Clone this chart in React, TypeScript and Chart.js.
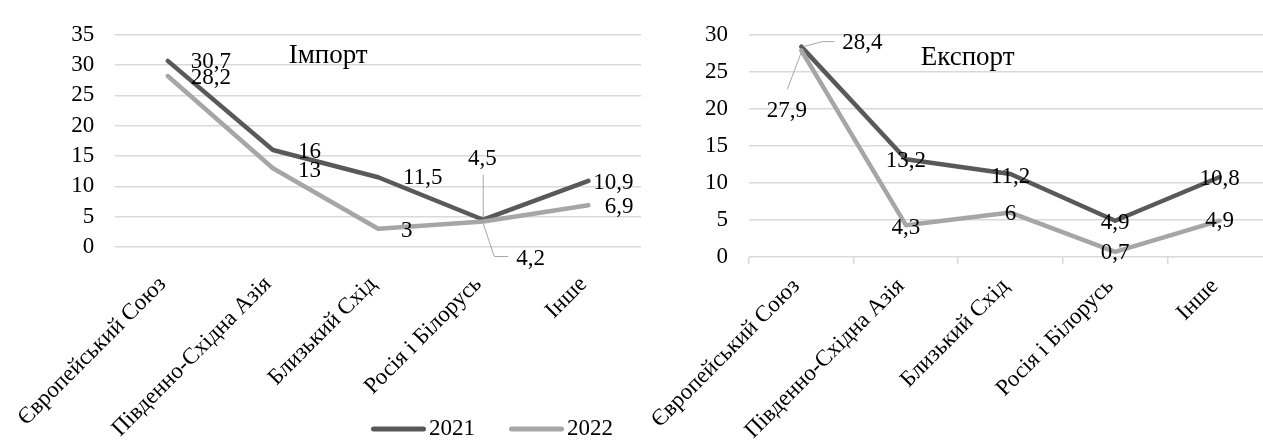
import React, { useEffect, useRef } from "react";
import { Chart, registerables } from "chart.js";

Chart.register(...registerables);

const FONT = "'Liberation Serif', 'Times New Roman', serif";
const DARK = "#595959";
const LIGHT = "#a6a6a6";
const GRID = "#d9d9d9";
const LEADER = "#a6a6a6";

// ---- data ----
const categories = [
  "Європейський Союз",
  "Південно-Східна Азія",
  "Близький Схід",
  "Росія і Білорусь",
  "Інше",
];
const seriesNames = ["2021", "2022"];
const import2021 = [30.7, 16, 11.5, 4.5, 10.9];
const import2022 = [28.2, 13, 3, 4.2, 6.9];
const export2021 = [28.4, 13.2, 11.2, 4.9, 10.8];
const export2022 = [27.9, 4.3, 6, 0.7, 4.9];
const importAxis = { min: 0, max: 35, step: 5 };
const exportAxis = { min: 0, max: 30, step: 5 };
const importTitle = "Імпорт";
const exportTitle = "Експорт";

// ---- label placement (layout only) ----
type Place = { dx: number; dy: number; align: CanvasTextAlign; leader?: number[][] };
const R = (dx: number, dy: number): Place => ({ dx, dy, align: "left" });
const C = (dy: number): Place => ({ dx: 0, dy, align: "center" });

const importPlaces: Place[][] = [
  [R(23, 1), R(25, 1.5), R(25, 1), { dx: -1, dy: -61, align: "center", leader: [[0, -45], [0, -2]] }, { dx: 45, dy: 2, align: "right" }],
  [R(23, 2), R(25, 2.5), R(23, 2), { dx: 33, dy: 37, align: "left", leader: [[0, 2], [11, 35], [25, 35]] }, { dx: 45, dy: 2, align: "right" }],
];
const exportPlaces: Place[][] = [
  [{ dx: 41, dy: -4, align: "left", leader: [[2, 0], [21, -5], [33, -5]] }, C(2), C(3), C(2), C(2)],
  [{ dx: -14.5, dy: 61, align: "center", leader: [[-14, 39], [0, 2]] }, C(2.5), C(1.5), C(1.5), C(0)],
];

// legend layout (left canvas pixels)
const legendLayout = { y: 429, starts: [371, 509], lineLen: 55, thickness: 5, gap: 3 };

const fmt = (v: number) => String(v).replace(".", ",");

function labelPlugin(title: string, titlePos: [number, number], places: Place[][], withLegend: boolean) {
  return {
    id: "valueLabels",
    afterDatasetsDraw(chart: any) {
      const ctx: CanvasRenderingContext2D = chart.ctx;
      const a = chart.chartArea;
      ctx.save();
      ctx.fillStyle = "#000";
      ctx.textBaseline = "middle";
      ctx.textAlign = "center";
      ctx.font = `27px ${FONT}`;
      ctx.fillText(title, a.left + titlePos[0] * (a.right - a.left), a.top + titlePos[1] * (a.bottom - a.top));
      chart.data.datasets.forEach((ds: any, di: number) => {
        const meta = chart.getDatasetMeta(di);
        meta.data.forEach((pt: any, j: number) => {
          const p = places[di][j];
          const x = pt.x;
          const y = pt.y;
          if (p.leader) {
            ctx.strokeStyle = LEADER;
            ctx.lineWidth = 1;
            ctx.beginPath();
            p.leader.forEach(([lx, ly], k) => (k ? ctx.lineTo(x + lx, y + ly) : ctx.moveTo(x + lx, y + ly)));
            ctx.stroke();
          }
          ctx.font = `23px ${FONT}`;
          ctx.fillStyle = "#000";
          ctx.textAlign = p.align;
          ctx.fillText(fmt(ds.data[j]), x + p.dx, y + p.dy);
        });
      });
      ctx.restore();
    },
    afterDraw(chart: any) {
      if (!withLegend) return;
      const ctx: CanvasRenderingContext2D = chart.ctx;
      const L = legendLayout;
      ctx.save();
      chart.data.datasets.forEach((ds: any, i: number) => {
        const x0 = L.starts[i];
        const r = L.thickness / 2;
        ctx.strokeStyle = ds.borderColor;
        ctx.lineWidth = L.thickness;
        ctx.lineCap = "round";
        ctx.beginPath();
        ctx.moveTo(x0 + r, L.y);
        ctx.lineTo(x0 + L.lineLen - r, L.y);
        ctx.stroke();
        ctx.fillStyle = "#000";
        ctx.font = `23px ${FONT}`;
        ctx.textAlign = "left";
        ctx.textBaseline = "middle";
        ctx.fillText(ds.label, x0 + L.lineLen + L.gap, L.y);
      });
      ctx.restore();
    },
  };
}

function buildConfig(o: {
  d1: number[];
  d2: number[];
  axis: { min: number; max: number; step: number };
  legend: boolean;
  xTicks: boolean;
  top: number;
  bottom: number;
  height: number;
  title: string;
  titlePos: [number, number];
  places: Place[][];
}): any {
  const font = { family: FONT, size: 23 };
  const line = (label: string, data: number[], color: string, order: number) => ({
    label,
    data,
    borderColor: color,
    backgroundColor: color,
    borderWidth: 4.5,
    pointRadius: 0,
    pointHoverRadius: 0,
    tension: 0,
    fill: false,
    borderJoinStyle: "round",
    borderCapStyle: "round",
    order,
  });
  return {
    type: "line",
    data: {
      labels: categories,
      datasets: [line(seriesNames[0], o.d1, DARK, 1), line(seriesNames[1], o.d2, LIGHT, 0)],
    },
    options: {
      animation: false,
      responsive: false,
      devicePixelRatio: 1,
      events: [],
      layout: { padding: { top: o.top, bottom: 0, left: 0, right: 0 } },
      plugins: {
        tooltip: { enabled: false },
        title: { display: false },
        legend: { display: false },
      },
      scales: {
        x: {
          type: "category",
          offset: true,
          grid: o.xTicks
            ? { display: true, offset: true, drawOnChartArea: false, drawTicks: true, tickLength: 7, color: GRID, lineWidth: 1.5 }
            : { display: false },
          border: { display: false },
          ticks: {
            autoSkip: false,
            minRotation: 45,
            maxRotation: 45,
            padding: o.xTicks ? 9 : 16,
            labelOffset: -5,
            color: "#000",
            font,
          },
          afterFit: (s: any) => {
            s.height = o.height - o.bottom;
          },
        },
        y: {
          min: o.axis.min,
          max: o.axis.max,
          ticks: { stepSize: o.axis.step, autoSkip: false, padding: 21, color: "#000", font },
          grid: { color: GRID, lineWidth: 1.5, drawTicks: false },
          border: { display: false },
          afterFit: (s: any) => {
            s.width = 109;
          },
        },
      },
    },
    plugins: [labelPlugin(o.title, o.titlePos, o.places, o.legend)],
  };
}

export default function App() {
  const leftRef = useRef<HTMLCanvasElement>(null);
  const rightRef = useRef<HTMLCanvasElement>(null);

  useEffect(() => {
    const c1 = new Chart(
      leftRef.current!,
      buildConfig({
        d1: import2021,
        d2: import2022,
        axis: importAxis,
        legend: true,
        xTicks: false,
        top: 25,
        bottom: 247,
        height: 442,
        title: importTitle,
        titlePos: [0.405, 0.101],
        places: importPlaces,
      })
    );
    const c2 = new Chart(
      rightRef.current!,
      buildConfig({
        d1: export2021,
        d2: export2022,
        axis: exportAxis,
        legend: false,
        xTicks: true,
        top: 30,
        bottom: 257,
        height: 442,
        title: exportTitle,
        titlePos: [0.418, 0.106],
        places: exportPlaces,
      })
    );
    return () => {
      c1.destroy();
      c2.destroy();
    };
  }, []);

  return (
    <div
      style={{
        position: "absolute",
        left: 0,
        top: 0,
        width: 1263,
        height: 442,
        overflow: "hidden",
        background: "#fff",
      }}
    >
      <canvas ref={leftRef} width={641} height={442} style={{ position: "absolute", left: 0, top: 0 }} />
      <canvas ref={rightRef} width={632} height={442} style={{ position: "absolute", left: 640, top: 0 }} />
    </div>
  );
}
